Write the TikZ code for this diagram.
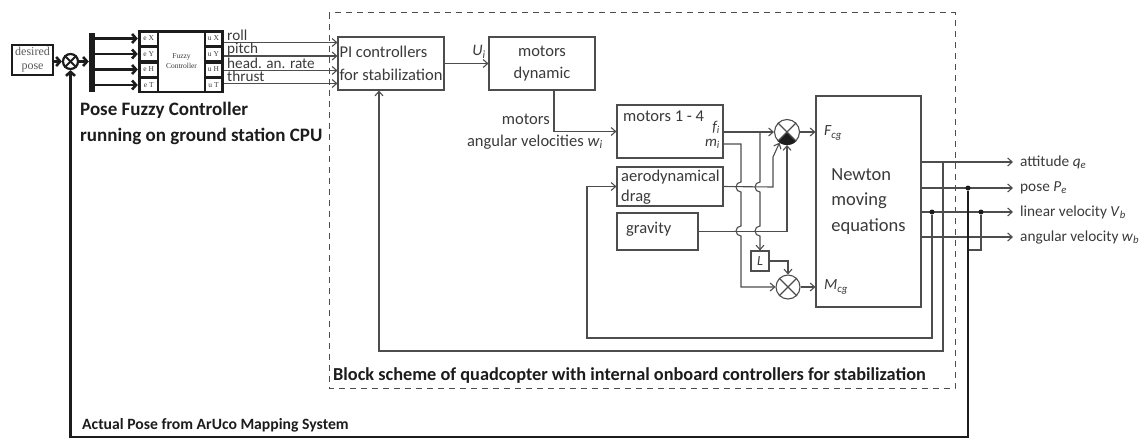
\documentclass[tikz,border=0pt]{standalone}
\usepackage{fontspec}
\setmainfont{Carlito}
\newfontfamily\timesfont{Liberation Serif}
\usetikzlibrary{arrows.meta}
\definecolor{ln}{HTML}{4D4D4D}
\definecolor{txt}{HTML}{3A3A3A}
\definecolor{ink}{HTML}{1C1C1C}
\newcommand\lowidx[1]{\textsubscript{\itshape #1}}
\tikzset{
  wire/.style={draw=ln, line width=1.1pt},
  arw/.style={wire, -{Straight Barb[length=4.5pt,width=8pt]}},
  heavy/.style={draw=ink, line width=2.6pt},
  harw/.style={heavy, -{Straight Barb[length=4pt,width=9pt]}},
  blockbox/.style={draw=ln, line width=1.1pt, inner sep=0pt, fill=white},
  lbl/.style={text=txt, inner sep=0pt, font=\fontsize{16.5}{22.5}\selectfont},
  outlbl/.style={text=txt, inner sep=0pt, anchor=west, font=\fontsize{15.3}{18}\selectfont},
  sig/.style={text=txt, inner sep=0pt, anchor=base west, font=\fontsize{15.2}{18}\selectfont},
  title/.style={text=ink, inner sep=0pt, anchor=west, font=\bfseries\fontsize{19}{24}\selectfont},
  port/.style={fill=white, minimum height=12pt, inner sep=0pt, text=txt, font=\timesfont\fontsize{7.5}{8}\selectfont},
  junction/.style={circle, draw=ln, line width=1.1pt, minimum size=25pt, inner sep=0pt, fill=white},
  dot/.style={circle, fill=ink, minimum size=5pt, inner sep=0pt},
}
\begin{document}
\begin{tikzpicture}[x=1pt,y=-1pt]
\useasboundingbox (0,0) rectangle (1144,440);

% frame around the onboard part
\draw[ln, line width=0.9pt, dash pattern=on 6pt off 5pt] (329,12.5) rectangle (955,388);
\node[text=ink, inner sep=0pt, anchor=west, font=\bfseries\fontsize{18.3}{22}\selectfont] (frametitle) at (333,375)
  {Block scheme of quadcopter with internal onboard controllers for stabilization};

% ---------------- ground station part ----------------
\node[draw=ink, line width=2pt, minimum width=41pt, minimum height=30pt, inner sep=0pt, align=center,
      text=black!65, font=\timesfont\fontsize{12}{14}\selectfont] (des) at (32.5,60) {desired\\pose};
\node[circle, draw=ink, line width=2.2pt, minimum size=15pt, inner sep=0pt] (sum0) at (70.5,61.5) {};
\draw[ink, line width=1.8pt] (sum0.45) -- (sum0.225) (sum0.135) -- (sum0.315);
\node[fill=ink, minimum width=6pt, minimum height=59pt, inner sep=0pt] (bar) at (92,62.5) {};

\node[fill=ink, minimum width=86pt, minimum height=63pt, inner sep=0pt] (fz) at (181,61.5) {};
\node[fill=white, minimum width=45pt, minimum height=58pt, inner sep=0pt, align=center, text=txt,
      font=\timesfont\fontsize{7.5}{10}\selectfont] (fzc) at (181.5,61.5) {Fuzzy\\Controller};
\node[port, minimum width=16.5pt] (ex) at (148.75,38.5) {e X};
\node[port, minimum width=16.5pt] (ey) at (148.75,54) {e Y};
\node[port, minimum width=16.5pt] (eh) at (148.75,69.5) {e H};
\node[port, minimum width=16.5pt] (et) at (148.75,85) {e T};
\node[port, minimum width=15pt] (ux) at (213.5,38.5) {u X};
\node[port, minimum width=15pt] (uy) at (213.5,54) {u Y};
\node[port, minimum width=15pt] (uh) at (213.5,69.5) {u H};
\node[port, minimum width=15pt] (ut) at (213.5,85) {u T};

\draw[harw] (des.east |- sum0) -- (sum0.west);
\draw[harw] (sum0.east) -- (sum0.east -| bar.west);
\foreach \p in {ex,ey,eh,et}
  \draw[harw] (bar.east |- \p.west) -- (fz.west |- \p.west);

\node[title] (pfc1) at (80,110) {Pose Fuzzy Controller};
\node[title] (pfc2) at (80,136) {running on ground station CPU};
\node[title, font=\bfseries\fontsize{15.7}{19}\selectfont] (aruco) at (82,425) {Actual Pose from ArUco Mapping System};

% ---------------- onboard blocks ----------------
\node[blockbox, minimum width=106pt, minimum height=53pt, align=left, lbl] (pi) at (391,63.5)
  {PI controllers\\for stabilization};
\node[blockbox, minimum width=106pt, minimum height=53pt, align=center, lbl] (md) at (542,63.5)
  {motors\\dynamic};
\node[blockbox, minimum width=106pt, minimum height=53pt] (m14) at (670,131.5) {};
\node[lbl, anchor=west] (m14t) at (623,116) {motors 1 - 4};
\node[lbl, anchor=east, font=\itshape\fontsize{15}{18}\selectfont] (fi) at (720,127.5) {f\lowidx{i}};
\node[lbl, anchor=east, font=\itshape\fontsize{15}{18}\selectfont] (mi) at (720,144) {m\lowidx{i}};
\node[blockbox, minimum width=106pt, minimum height=39pt] (aero) at (670,186.5) {};
\node[lbl, anchor=west, align=left, font=\fontsize{16.5}{20}\selectfont] (aerot) at (621,187) {aerodynamical\\drag};
\node[blockbox, minimum width=81pt, minimum height=37pt] (grav) at (657.5,231.5) {};
\node[lbl, anchor=west] (gravt) at (626,229) {gravity};
\node[blockbox, minimum width=18pt, minimum height=20pt, lbl, font=\itshape\fontsize{14}{16}\selectfont] (lbox) at (760,261) {L};
\node[blockbox, minimum width=105pt, minimum height=211pt, align=left, lbl,
      font=\fontsize{18.5}{25.5}\selectfont] (nw) at (868.5,201.5) {Newton\\moving\\equations};
\node[lbl, anchor=west, font=\itshape\fontsize{15.5}{18}\selectfont] (fcg) at (824,133) {F\lowidx{cg}};
\node[lbl, anchor=west, font=\itshape\fontsize{15.5}{18}\selectfont] (mcg) at (824,287) {M\lowidx{cg}};

% summing junctions
\node[junction] (sumF) at (787,132) {};
\fill[ink] (sumF.center) -- (sumF.225) -- (sumF.240) -- (sumF.255) -- (sumF.270)
  -- (sumF.285) -- (sumF.300) -- (sumF.315) -- cycle;
\draw[wire] (sumF.45) -- (sumF.225) (sumF.135) -- (sumF.315);
\node[junction, minimum size=24pt] (sumM) at (788,287) {};
\draw[wire] (sumM.45) -- (sumM.225) (sumM.135) -- (sumM.315);

% ---------------- command signals ----------------
\foreach \y/\t [count=\k] in {42.5/roll, 56/pitch, 70.5/head. an. rate, 83.5/thrust} {
  \draw[arw] (224,\y) -- (pi.west |- 0,\y);
  \node[sig] (cmd\k) at (227,\y-2.5) {\t};
}

\draw[arw] (pi) -- (md);
\node[lbl, font=\itshape\fontsize{16}{18}\selectfont] (ui) at (479,52) {U\lowidx{i}};

\coordinate (mdout) at (554,90);
\draw[arw] (mdout) |- (m14.west);
\node[lbl, anchor=east] (wl1) at (550,119) {motors};
\node[lbl, anchor=east] (wl2) at (603,142) {angular velocities \textit{w}\lowidx{i}};

% forces and moments
\draw[arw] (m14.east |- sumF) -- (sumF.west);
\draw[arw] (723,144) -- (741,144) -- (741,182) arc[start angle=270,end angle=90,radius=5]
  -- (741,226) arc[start angle=270,end angle=90,radius=5] |- (sumM.west);
\draw[arw] (760,132) -- (760,182) arc[start angle=270,end angle=90,radius=5]
  -- (760,226) arc[start angle=270,end angle=90,radius=5] -- (lbox.north);
\draw[arw] (lbox.east) -| (sumM.north);
\draw[arw] (aero.east) -- (773,187) -- (773,157) -- (sumF.235);
\draw[arw] (grav.east) -| (sumF.south);
\draw[arw] (sumF.east) -- (nw.west |- sumF);
\draw[arw] (sumM.east) -- (nw.west |- sumM);

% ---------------- outputs ----------------
\foreach \y/\t [count=\k] in {162/attitude \textit{q}\lowidx{e}, 188/pose \textit{P}\lowidx{e},
    212/linear velocity \textit{V}\lowidx{b}, 237/angular velocity \textit{w}\lowidx{b}} {
  \draw[arw] (nw.east |- 0,\y) -- (1013,\y);
  \node[outlbl] (out\k) at (1020,\y) {\t};
}

% internal feedback loops
\node[dot] (vdot) at (932,212) {};
\draw[arw] (vdot) -- (932,338) -- (587,338) |- (aero.west);
\coordinate (attbr) at (943,162);
\draw[arw] (attbr) -- (943,351) -| (pi.south -| 379,0);

% feedback from the mapping system
\node[dot] (pdot) at (968,188) {};
\node[dot] (ldot) at (981,212) {};
\draw[wire] (ldot) -- (981,250) -- (968,250);
\draw[harw] (pdot) |- (sum0.south |- 0,437) -- (sum0.south);
\end{tikzpicture}
\end{document}
